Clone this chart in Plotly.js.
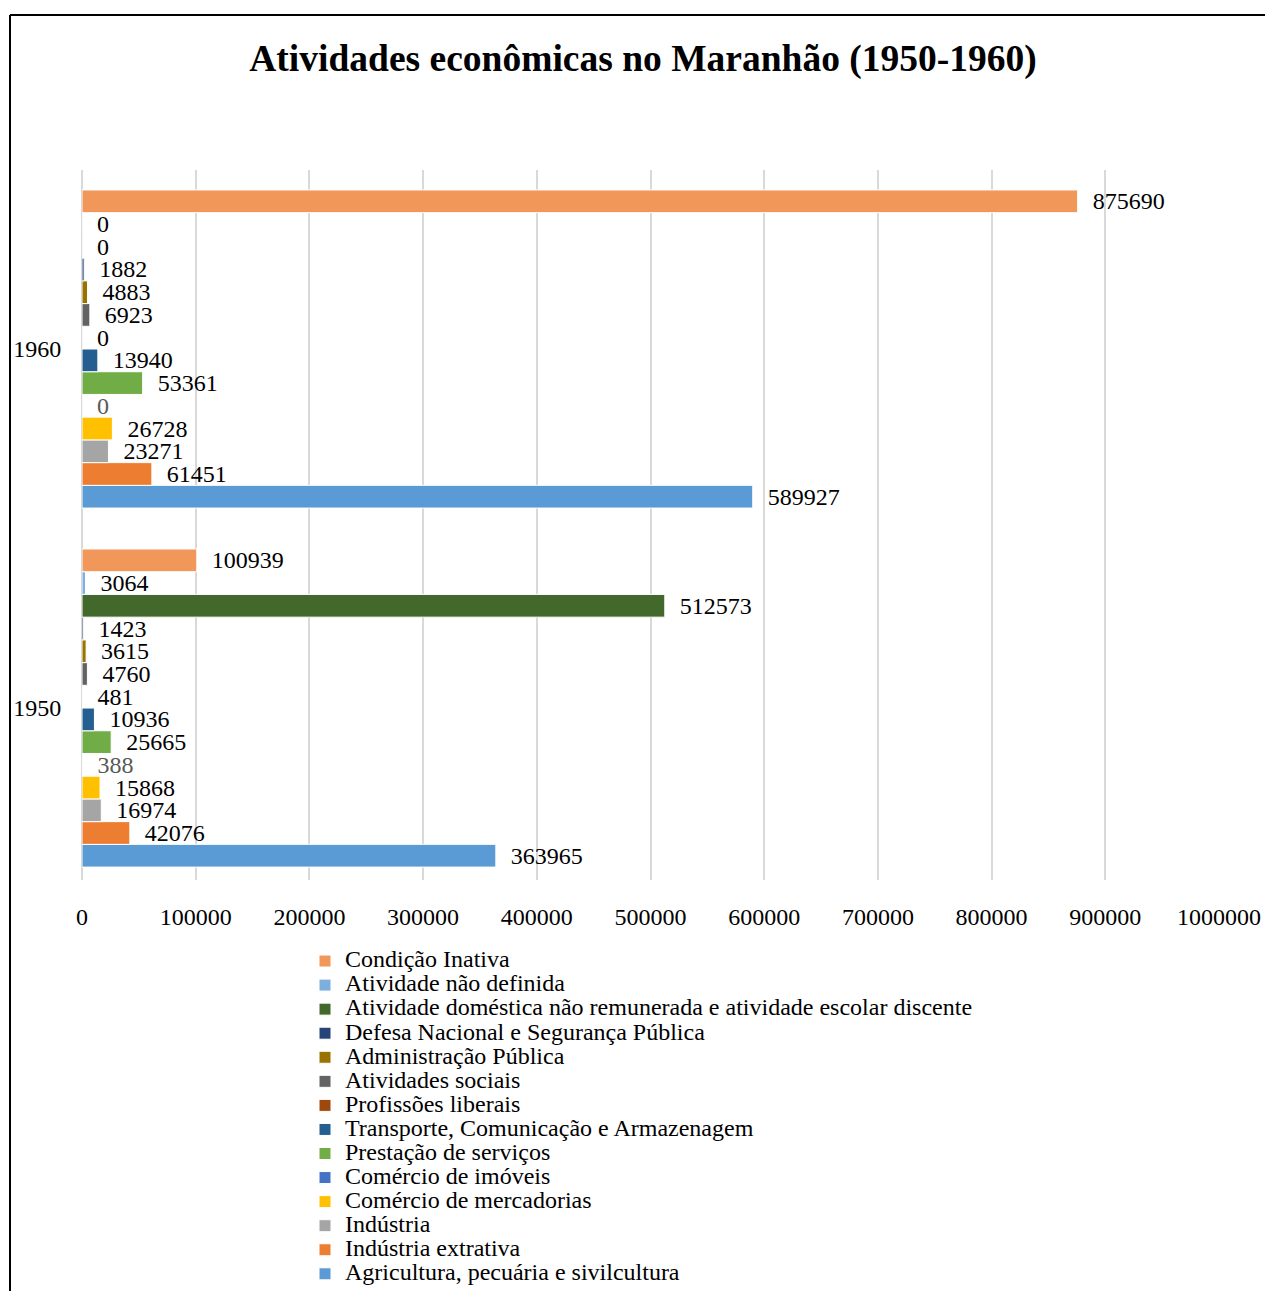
<!DOCTYPE html>
<html>
<head>
<meta charset="utf-8">
<script src="https://cdn.plot.ly/plotly-3.0.1.min.js"></script>
<style>
html,body{margin:0;padding:0;background:#fff;overflow:hidden;width:1265px;height:1291px;}
#chart{width:1265px;height:1330px;}
</style>
</head>
<body>
<div id="chart"></div>
<script>
// Categories (years)
const years = ["1950", "1960"];

// Series (bottom-to-top order within each group)
const seriesNames = [
  "Agricultura, pecuária e sivilcultura",
  "Indústria extrativa",
  "Indústria",
  "Comércio de mercadorias",
  "Comércio de imóveis",
  "Prestação de serviços",
  "Transporte, Comunicação e Armazenagem",
  "Profissões liberais",
  "Atividades sociais",
  "Administração Pública",
  "Defesa Nacional e Segurança Pública",
  "Atividade doméstica não remunerada e atividade escolar discente",
  "Atividade não definida",
  "Condição Inativa"
];

// Values for 1950
const values1950 = [363965, 42076, 16974, 15868, 388, 25665, 10936, 481, 4760, 3615, 1423, 512573, 3064, 100939];
// Values for 1960
const values1960 = [589927, 61451, 23271, 26728, 0, 53361, 13940, 0, 6923, 4883, 1882, 0, 0, 875690];

// X-axis tick values
const tickVals = [0, 100000, 200000, 300000, 400000, 500000, 600000, 700000, 800000, 900000, 1000000];

const colors = [
  "#5B9BD5", "#ED7D31", "#A5A5A5", "#FFC000", "#4472C4", "#70AD47",
  "#255E91", "#9E480E", "#636363", "#997300", "#264478", "#43682B",
  "#7CAFDD", "#F1975A"
];
const labelColors = seriesNames.map((n, i) => i === 4 ? "#595959" : "#000000");

const font = "Liberation Serif, Times New Roman, serif";

const traces = seriesNames.map((name, i) => ({
  type: "bar",
  orientation: "h",
  name: '<span style="font-size:24px">' + name + '</span>',
  y: years,
  x: [values1950[i], values1960[i]],
  text: [values1950[i], values1960[i]].map(v => String(v)),
  texttemplate: "  %{text}",
  textposition: "outside",
  constraintext: "none",
  cliponaxis: false,
  textfont: {family: font, size: 24, color: labelColors[i]},
  marker: {color: colors[i], line: {color: "#ffffff", width: 1}},
  hoverinfo: "x"
}));

// figure is drawn slightly taller than the window; the window shows the top 1291px
const FIG_H = 1330;
const plotTop = 170, plotBottom = 880, plotLeft = 82, plotRight = 1219;
const plotH = plotBottom - plotTop, plotW = plotRight - plotLeft;
const py = px => (plotBottom - px) / plotH;
const pxX = px => (px - plotLeft) / plotW;

const layout = {
  width: 1265,
  height: FIG_H,
  paper_bgcolor: "#ffffff",
  plot_bgcolor: "#ffffff",
  font: {family: font, size: 24, color: "#000000"},
  title: {
    text: "<b>Atividades econômicas no Maranhão (1950-1960)</b>",
    font: {family: font, size: 37.5, color: "#000000"},
    xref: "container", yref: "container",
    x: 643 / 1265, xanchor: "center",
    y: 1 - 58 / FIG_H, yanchor: "middle"
  },
  margin: {l: plotLeft, r: 1265 - plotRight, t: plotTop, b: FIG_H - plotBottom},
  barmode: "group",
  bargap: 0.114,
  bargroupgap: 0,
  showlegend: true,
  legend: {
    traceorder: "reversed",
    x: pxX(305), xanchor: "left",
    y: py(944), yanchor: "top",
    font: {family: font, size: 16.2, color: "#000000"},
    tracegroupgap: 0,
    itemclick: false,
    bgcolor: "rgba(0,0,0,0)"
  },
  xaxis: {
    range: [0, 1000000],
    tickvals: tickVals,
    ticktext: tickVals.map(v => String(v)),
    showgrid: true,
    gridcolor: "#d9d9d9",
    gridwidth: 2,
    zeroline: true,
    zerolinecolor: "#d9d9d9",
    zerolinewidth: 2,
    showline: false,
    ticks: "outside",
    ticklen: 15,
    tickcolor: "rgba(0,0,0,0)",
    tickfont: {family: font, size: 24, color: "#000000"},
    fixedrange: true
  },
  yaxis: {
    type: "category",
    categoryorder: "array",
    categoryarray: years,
    range: [-0.479, 1.4986],
    showgrid: false,
    zeroline: false,
    showline: false,
    ticks: "outside",
    ticklen: 15,
    tickcolor: "rgba(0,0,0,0)",
    tickfont: {family: font, size: 24, color: "#000000"},
    fixedrange: true
  },
  shapes: [
    {type: "line", xref: "paper", yref: "paper",
     x0: pxX(10), x1: pxX(1270), y0: py(15), y1: py(15),
     line: {color: "#000000", width: 2}},
    {type: "line", xref: "paper", yref: "paper",
     x0: pxX(10), x1: pxX(10), y0: py(15), y1: py(1300),
     line: {color: "#000000", width: 2}}
  ]
};

Plotly.newPlot("chart", traces, layout, {displayModeBar: false, staticPlot: true});
</script>
</body>
</html>
